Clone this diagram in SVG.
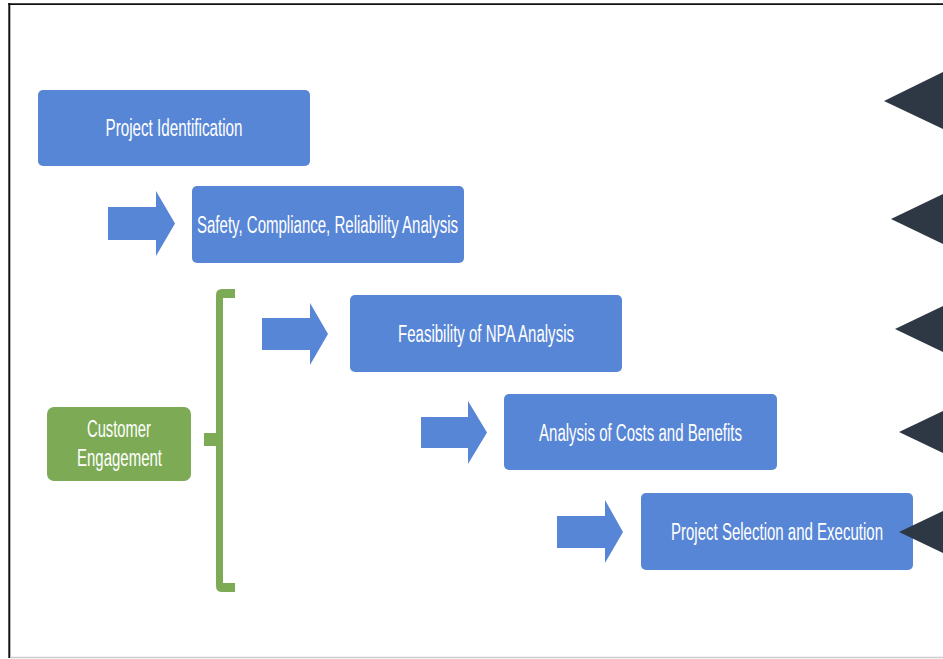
<svg xmlns="http://www.w3.org/2000/svg" width="943" height="659" viewBox="0 0 943 659">
  <style>
    .box { fill: #5886D6; }
    .green { fill: #7DAB55; }
    .arrow { fill: #5886D6; }
    .tri { fill: #2E3844; }
    .lbl { font-family: "Liberation Sans Narrow", "Liberation Sans", Arial, sans-serif; font-size: 23px; fill: #FFFFFF; text-anchor: middle; }
  </style>
  <rect x="0" y="0" width="943" height="659" fill="#FFFFFF"/>
  <g id="frame">
    <line x1="9.3" y1="3" x2="9.3" y2="658" stroke="#111111" stroke-width="2"/>
    <line x1="8.3" y1="4.2" x2="943" y2="4.2" stroke="#111111" stroke-width="1.8"/>
    <line x1="10" y1="657.6" x2="943" y2="657.6" stroke="#CCCCCC" stroke-width="1.5"/>
  </g>
  <g id="connectors">
    <polygon class="arrow" points="108,207 156,207 156,191 175,223.5 156,256 156,240 108,240"/>
    <polygon class="arrow" points="262,318 310,318 310,303 328,334 310,365 310,350 262,350"/>
    <polygon class="arrow" points="421,417 468,417 468,401 487,432.5 468,464 468,448 421,448"/>
    <polygon class="arrow" points="557,516 605,516 605,500 623,532 605,563 605,548 557,548"/>
    <path class="green" d="M235,289 L222,289 Q216,289 216,295 L216,433 L204,433 L204,446 L216,446 L216,586 Q216,592 222,592 L235,592 L235,583 L223,583 L223,298 L235,298 Z"/>
  </g>
  <g id="project-identification">
    <rect class="box" x="38" y="90" width="272" height="76" rx="5"/>
    <text class="lbl" x="174" y="136" textLength="137" lengthAdjust="spacingAndGlyphs">Project Identification</text>
  </g>
  <g id="safety-analysis">
    <rect class="box" x="192" y="186" width="272" height="77" rx="5"/>
    <text class="lbl" x="327.5" y="233" textLength="261" lengthAdjust="spacingAndGlyphs">Safety, Compliance, Reliability Analysis</text>
  </g>
  <g id="feasibility">
    <rect class="box" x="350" y="295" width="272" height="77" rx="5"/>
    <text class="lbl" x="486" y="342" textLength="176" lengthAdjust="spacingAndGlyphs">Feasibility of NPA Analysis</text>
  </g>
  <g id="costs-benefits">
    <rect class="box" x="504" y="394" width="273" height="76" rx="5"/>
    <text class="lbl" x="640.5" y="440.5" textLength="203" lengthAdjust="spacingAndGlyphs">Analysis of Costs and Benefits</text>
  </g>
  <g id="selection-execution">
    <rect class="box" x="641" y="493" width="272" height="77" rx="5"/>
    <text class="lbl" x="777" y="540" textLength="212" lengthAdjust="spacingAndGlyphs">Project Selection and Execution</text>
  </g>
  <g id="customer-engagement">
    <rect class="green" x="47" y="407" width="144" height="74" rx="7"/>
    <text class="lbl" x="119" y="437" textLength="64" lengthAdjust="spacingAndGlyphs">Customer</text>
    <text class="lbl" x="119.5" y="466" textLength="85" lengthAdjust="spacingAndGlyphs">Engagement</text>
  </g>
  <g id="pointers">
    <polygon class="tri" points="884,101 943,72 943,129"/>
    <polygon class="tri" points="891,219 943,194 943,244"/>
    <polygon class="tri" points="895,329 943,306 943,352"/>
    <polygon class="tri" points="899,432 943,411 943,453"/>
    <polygon class="tri" points="899,532 943,511 943,553"/>
  </g>
</svg>
